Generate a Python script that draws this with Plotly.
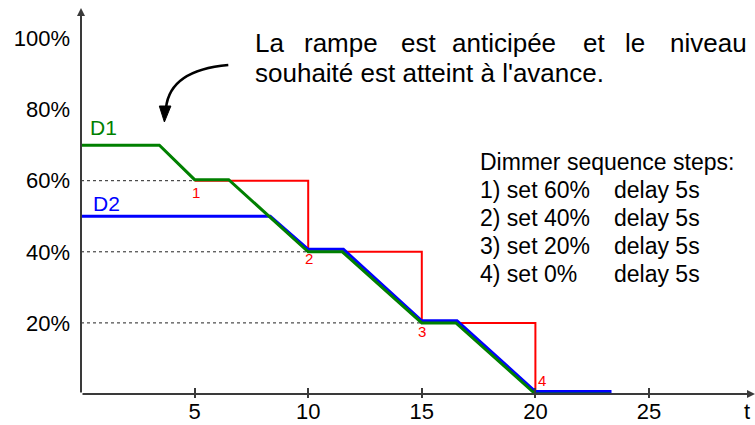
import plotly.graph_objects as go

# ---- data -------------------------------------------------------------
# D1 output level (%) over time (s)
d1_t = [0, 3.45, 5.0, 6.5, 10.0, 11.5, 15.0, 16.5, 20.0, 23.3]
d1_level = [70, 70, 60.3, 60.3, 40, 40, 20, 20, 0, 0]

# D2 output level (%) over time (s)
d2_t = [0, 8.33, 10.0, 11.55, 15.0, 16.55, 20.0, 23.35]
d2_level = [50, 50, 40.7, 40.7, 20.6, 20.6, 0.7, 0.7]

# dimmer sequence set-points (step start time, level)
step_t = [5, 10, 15, 20]
step_level = [60, 40, 20, 0]
step_names = ["1", "2", "3", "4"]
step_label_t = [5.05, 10.05, 15.03, 20.3]
step_label_level = [56.8, 38.0, 17.7, 3.9]

# dotted guides from the level axis to each step start
guide_level = [60, 40, 20]
guide_end_t = [5, 10, 15]

x_ticks = [5, 10, 15, 20, 25]
y_ticks = [20, 40, 60, 80, 100]
y_tick_text = ["20%", "40%", "60%", "80%", "100%"]

sequence_title = "Dimmer sequence steps:"
sequence_set = ["1) set 60%", "2) set 40%", "3) set 20%", "4) set 0%"]
sequence_delay = ["delay 5s", "delay 5s", "delay 5s", "delay 5s"]

note_line1_words = ["La", "rampe", "est", "anticipée", "et", "le", "niveau"]
note_line2 = "souhaité est atteint à l'avance."

# ---- geometry ---------------------------------------------------------
W, H = 755, 425
ML, MR, MT, MB = 81, 0, 8, 31
PW, PH = W - ML - MR, H - MT - MB
PX_PER_T = 22.72
PX_PER_PCT = 3.555
X_MAX = PW / PX_PER_T
Y_MAX = PH / PX_PER_PCT

FONT = "Arial, Liberation Sans, sans-serif"
GREEN, BLUE, RED, AXIS = "#008000", "#0000FF", "#FF0000", "#3a3a3a"


def px_to_x(px):
    return (px - ML) / PX_PER_T


def px_to_y(py):
    return (H - MB - py) / PX_PER_PCT


def paper_x(px):
    return (px - ML) / PW


def paper_y(py):
    return (H - MB - py) / PH


def label(px, py, text, size, color="black", xanchor="left"):
    return dict(x=paper_x(px), y=paper_y(py), xref="paper", yref="paper",
                text=text, showarrow=False, xanchor=xanchor, yanchor="middle",
                font=dict(family=FONT, size=size, color=color))


fig = go.Figure()

# dotted guides
for lvl, t_end in zip(guide_level, guide_end_t):
    fig.add_trace(go.Scatter(
        x=[0, t_end], y=[lvl, lvl], mode="lines",
        line=dict(color="#222222", width=1, dash="dot"),
        hoverinfo="skip", showlegend=False))

# set-point staircase
fig.add_trace(go.Scatter(
    x=step_t, y=step_level, mode="lines", line_shape="hv",
    line=dict(color=RED, width=2), cliponaxis=False,
    showlegend=False))

# D2 then D1 on top
fig.add_trace(go.Scatter(
    x=d2_t, y=d2_level, mode="lines",
    line=dict(color=BLUE, width=3), cliponaxis=False, showlegend=False))
fig.add_trace(go.Scatter(
    x=d1_t, y=d1_level, mode="lines",
    line=dict(color=GREEN, width=3), cliponaxis=False, showlegend=False))

annotations = []

# axes drawn as arrows
annotations.append(dict(x=X_MAX, y=0, ax=0, ay=0, xref="x", yref="y",
                        axref="x", ayref="y", text="", showarrow=True,
                        arrowhead=2, arrowsize=0.8, arrowwidth=2,
                        arrowcolor=AXIS, standoff=0))
annotations.append(dict(x=0, y=Y_MAX, ax=0, ay=0, xref="x", yref="y",
                        axref="x", ayref="y", text="", showarrow=True,
                        arrowhead=2, arrowsize=0.8, arrowwidth=2,
                        arrowcolor=AXIS, standoff=0))

# step numbers
for name, t, lvl in zip(step_names, step_label_t, step_label_level):
    annotations.append(dict(x=t, y=lvl, xref="x", yref="y", text=name,
                            showarrow=False, font=dict(family=FONT, size=15, color=RED),
                            xanchor="center", yanchor="middle"))

# series names
annotations.append(label(103, 127, "D1", 21, GREEN, "center"))
annotations.append(label(106, 203, "D2", 21, BLUE, "center"))

# time axis name
annotations.append(label(747, 411, "t", 22, "black", "center"))

# note (justified first line)
note_word_px = [253, 302, 399, 450, 581, 623, 668]
for word, px in zip(note_line1_words, note_word_px):
    annotations.append(label(px, 43, word, 26))
annotations.append(label(253, 73, note_line2, 26))

# sequence description
seq_rows_py = [162, 190, 218, 246, 274]
annotations.append(label(478, seq_rows_py[0], sequence_title, 23))
for s, d, py in zip(sequence_set, sequence_delay, seq_rows_py[1:]):
    annotations.append(label(478, py, s, 23))
    annotations.append(label(612, py, d, 23))

# curved pointer towards the anticipated ramp
p0 = (px_to_x(228.3), px_to_y(65))
c0 = (px_to_x(170), px_to_y(70))
p1 = (px_to_x(166), px_to_y(108))
head = [(px_to_x(159.3), px_to_y(106)), (px_to_x(170.9), px_to_y(106)),
        (px_to_x(164.4), px_to_y(122))]
shapes = [
    dict(type="path", xref="x", yref="y",
         path=f"M {p0[0]},{p0[1]} Q {c0[0]},{c0[1]} {p1[0]},{p1[1]}",
         line=dict(color="black", width=2.6)),
    dict(type="path", xref="x", yref="y",
         path=f"M {head[0][0]},{head[0][1]} L {head[1][0]},{head[1][1]} "
              f"L {head[2][0]},{head[2][1]} Z",
         fillcolor="black", line=dict(color="black", width=1)),
]

fig.update_layout(
    width=W, height=H,
    margin=dict(l=ML, r=MR, t=MT, b=MB, pad=0, autoexpand=False),
    paper_bgcolor="white", plot_bgcolor="white",
    showlegend=False,
    annotations=annotations,
    shapes=shapes,
    xaxis=dict(range=[0, X_MAX], showgrid=False, zeroline=False, showline=False,
               automargin=False,
               tickmode="array", tickvals=x_ticks, ticks="inside", ticklen=6,
               tickwidth=1.5, tickcolor=AXIS, ticklabelstandoff=2,
               tickfont=dict(family=FONT, size=22, color="black"),
               fixedrange=True),
    xaxis2=dict(range=[0, X_MAX], overlaying="x", anchor="y", side="bottom",
                automargin=False,
                showgrid=False, zeroline=False, showline=False,
                tickmode="array", tickvals=x_ticks, ticks="outside", ticklen=3,
                tickwidth=1.5, tickcolor=AXIS, showticklabels=False),
    yaxis=dict(range=[0, Y_MAX], showgrid=False, zeroline=False, showline=False,
               automargin=False,
               tickmode="array", tickvals=y_ticks, ticktext=y_tick_text,
               ticks="", ticklabelstandoff=10,
               tickfont=dict(family=FONT, size=22, color="black"),
               fixedrange=True),
)

# invisible trace to keep the overlay tick axis drawn
fig.add_trace(go.Scatter(x=[0], y=[0], xaxis="x2", mode="markers",
                         marker=dict(opacity=0), hoverinfo="skip", showlegend=False))

fig.write_html("out.html", config={"displayModeBar": False})
